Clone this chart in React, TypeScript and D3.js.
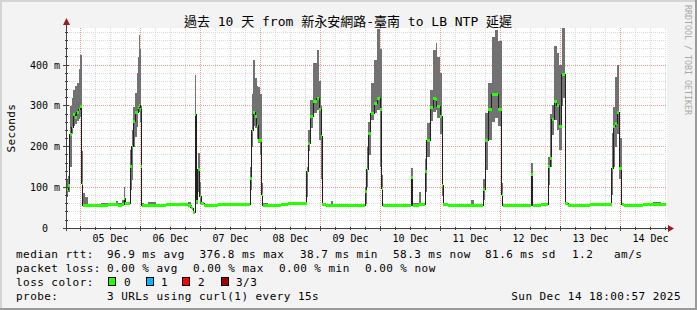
import React from 'react';
import * as d3 from 'd3';

const W = 697;
const H = 310;

const titleText = '過去 10 天 from 新永安網路-臺南 to LB NTP 延遲';
const yAxisTitle = 'Seconds';
const watermark = 'RRDTOOL / TOBI OETIKER';

// hours relative to 05 Dec 00:00
const hStart = -5.8;
const hEnd = 234.2;
const yMax = 491;

const dayLabels = ['05 Dec', '06 Dec', '07 Dec', '08 Dec', '09 Dec', '10 Dec', '11 Dec', '12 Dec', '13 Dec', '14 Dec'];
const yTickValues = [0, 100, 200, 300, 400];
const yTickLabels = ['0  ', '100 m', '200 m', '300 m', '400 m'];

// sample start times (hours since 05 Dec 00:00); each sample holds until the next
const sampleHours = [
  -5.8, -5.0, -4.3, -3.6, -2.9, -2.2, -1.5, -0.8, -0.2, 0.4, 0.8, 1.8, 3.0, 5.0, 8.0, 11.0, 14.0, 15.0, 16.6, 17.4, 17.8,
  19.8, 20.5, 21.1, 21.8, 22.5, 23.1, 23.5, 23.8, 24.2, 24.5, 25.5, 27.0, 30.0, 34.0, 36.0, 40.0, 43.0, 44.0, 44.6, 45.1, 45.8, 46.3, 46.8, 47.6, 48.3,
  49.5, 52.0, 55.0, 58.0, 62.0, 65.0, 67.8, 68.5, 69.1, 69.8, 70.5, 71.1, 71.8, 72.5, 72.9, 75.0, 80.0, 83.0, 87.0,
  90.5, 91.1, 91.8, 93.1, 94.5, 95.5, 96.2, 96.6, 98.0, 100.0, 101.0, 105.0, 110.0, 113.8, 114.5, 115.1, 116.1, 117.4, 118.7, 119.8, 120.5, 120.9, 124.0, 128.0, 132.3, 132.8, 135.3, 136.3,
  137.8, 138.5, 139.8, 141.1, 142.0, 142.5, 143.8, 144.7, 145.1, 147.0, 152.0, 156.0, 157.5, 161.1, 161.8, 163.1, 164.5, 165.8, 167.1, 168.5, 168.9, 172.0, 176.0, 180.3, 180.8, 184.0,
  187.1, 187.8, 188.5, 189.4, 190.5, 191.5, 192.5, 193.1, 193.8, 195.0, 200.0, 203.8, 207.0, 212.5, 213.1, 213.8, 214.7, 215.5, 216.5, 217.5, 222.0, 225.0, 229.0, 232.0,
];

// smoke lower edge (ms)
const smokeLoMs = [
  77, 90, 150, 230, 250, 255, 262, 268, 272, 95, 54, 54, 54, 54, 55, 55, 56, 55, 56, 60, 58,
  94, 118, 200, 225, 249, 283, 285, 260, 120, 54, 53, 53, 53, 56, 56, 56, 55, 50, 45, 36, 250, 60, 90, 60, 56,
  54, 54, 56, 56, 57, 57, 94, 200, 250, 246, 220, 209, 180, 60, 55, 55, 56, 57, 58,
  77, 190, 246, 283, 290, 216, 120, 55, 54, 55, 53, 54, 55, 60, 102, 180, 266, 283, 290, 150, 80, 54, 54, 54, 90, 55, 57, 57,
  90, 175, 262, 286, 290, 270, 230, 80, 55, 54, 53, 55, 55, 70, 143, 216, 260, 270, 250, 65, 54, 54, 55, 100, 55, 56,
  106, 150, 229, 266, 241, 192, 300, 320, 57, 54, 54, 56, 57, 81, 151, 200, 230, 120, 56, 53, 53, 56, 56, 56,
];

// median rtt (ms)
const medianMs = [
  94, 106, 230, 248, 278, 272, 285, 292, 298, 111, 57, 56, 55, 56, 57, 58, 58, 57, 58, 74, 61,
  151, 200, 262, 283, 283, 295, 300, 290, 151, 57, 55, 55, 55, 58, 58, 58, 57, 52, 49, 38.7, 280, 65, 143, 77, 61,
  56, 56, 58, 58, 59, 59, 123, 240, 285, 275, 251, 216, 216, 84, 57, 57, 58, 60, 61,
  139, 208, 274, 311, 319, 290, 225, 59, 57, 57, 55, 56, 57, 90, 143, 233, 282, 307, 319, 290, 98, 57, 56, 56, 124, 57, 59, 59,
  139, 216, 295, 319, 315, 298, 274, 106, 59, 56, 55, 57, 57, 94, 216, 290, 327, 327, 290, 82, 57, 56, 57, 133, 57, 58,
  151, 172, 266, 311, 300, 249, 376, 376, 61, 57, 56, 59, 59, 147, 249, 258, 284, 147, 59, 55, 55, 59, 59, 58,
];

// smoke upper edge (ms)
const smokeHiMs = [
  118, 128, 300, 320, 340, 350, 355, 390, 425, 190, 86, 77, 60, 59, 61, 62, 66, 61, 70, 102, 64,
  192, 241, 298, 332, 381, 421, 475, 440, 300, 62, 58, 64, 57, 60, 63, 61, 64, 56, 53, 42, 376, 120, 185, 114, 64,
  58, 59, 61, 62, 61, 63, 151, 330, 413, 368, 350, 347, 330, 110, 61, 60, 62, 63, 64,
  151, 240, 315, 405, 437, 360, 300, 63, 60, 67, 58, 58, 60, 102, 200, 260, 356, 413, 489, 440, 130, 60, 58, 59, 148, 61, 90, 62,
  170, 258, 339, 437, 455, 420, 380, 150, 62, 58, 58, 69, 60, 120, 283, 356, 470, 485, 460, 110, 60, 58, 60, 160, 60, 60,
  176, 280, 302, 446, 429, 400, 491, 491, 64, 60, 58, 62, 61, 233, 298, 372, 400, 221, 62, 57, 58, 62, 65, 61,
];

const rttStats = ['96.9 ms avg', '376.8 ms max', '38.7 ms min', '58.3 ms now', '81.6 ms sd', '1.2', 'am/s'];
const lossStats = ['0.00 % avg', '0.00 % max', '0.00 % min', '0.00 % now'];
const lossLabels = ['0', '1', '2', '3/3'];
const lossColors = ['#26ff00', '#00b8ff', '#ff0000', '#a00000'];
const probeText = '3 URLs using curl(1) every 15s';
const stampText = 'Sun Dec 14 18:00:57 2025';

// layout
const PL = 66;
const PR = 666;
const PT = 28;
const PB = 228.3;
const rttX = [107, 199.5, 300, 393, 485, 572, 614];
const lossX = [107, 193, 279, 365];
const boxX = [108, 146, 182, 221];
const boxLabelX = [124, 161, 198, 236];
const rowY = [258, 272, 286, 300];

const MONO = "'DejaVu Sans Mono', 'Noto Sans CJK TC', monospace";

export default function App() {
  const x = d3.scaleLinear().domain([hStart, hEnd]).range([PL, PR]);
  const y = d3.scaleLinear().domain([0, yMax]).range([PB, PT]).clamp(true);
  const px = (v: number) => Math.floor(v) + 0.5;

  const n = sampleHours.length;
  const pts = sampleHours.map((h, i) => ({ h, lo: smokeLoMs[i], m: medianMs[i], hi: smokeHiMs[i] }));
  const ptsEnd = [...pts, { ...pts[n - 1], h: hEnd }];

  const smokeArea = d3
    .area<any>()
    .curve(d3.curveStepAfter)
    .x((d) => x(d.h))
    .y0((d) => y(d.lo))
    .y1((d) => y(d.hi));
  const medianLine = d3
    .line<any>()
    .curve(d3.curveStepAfter)
    .x((d) => x(d.h))
    .y((d) => y(d.m));

  const minorH = d3.range(20, yMax, 20).filter((v) => v % 100 !== 0);
  const majorH = yTickValues.filter((v) => v > 0);
  const minorV = d3.range(0, hEnd, 6).filter((h) => h % 24 !== 0 && h > hStart);
  const majorV = d3.range(0, hEnd, 24);
  const labelH = dayLabels.map((_, i) => i * 24 + 12);

  return (
    <svg
      width={W}
      height={H}
      viewBox={`0 0 ${W} ${H}`}
      style={{ position: 'absolute', left: 0, top: 0, display: 'block' }}
      fontFamily={MONO}
    >
      <rect x={0} y={0} width={W} height={H} fill="#f3f3f3" />
      <rect x={0} y={0} width={W} height={2} fill="#d4d4d4" />
      <rect x={0} y={0} width={2} height={H} fill="#d4d4d4" />
      <rect x={0} y={H - 2} width={W} height={2} fill="#9a9a9a" />
      <rect x={W - 2} y={0} width={2} height={H} fill="#9a9a9a" />

      {/* canvas */}
      <rect x={PL} y={PT} width={PR - PL + 1} height={PB - PT} fill="#ffffff" />

      {/* grid */}
      <g shapeRendering="crispEdges" strokeWidth={1} strokeDasharray="1,1">
        {minorH.map((v) => (
          <line key={'mh' + v} x1={PL + 1} x2={PR + 1} y1={px(y(v))} y2={px(y(v))} stroke="#d9d9d9" />
        ))}
        {minorV.map((h) => (
          <line key={'mv' + h} x1={px(x(h))} x2={px(x(h))} y1={PT} y2={PB} stroke="#d9d9d9" />
        ))}
        {majorH.map((v) => (
          <line key={'Mh' + v} x1={PL + 1} x2={PR + 1} y1={px(y(v))} y2={px(y(v))} stroke="#f09a9a" />
        ))}
        {majorV.map((h) => (
          <line key={'Mv' + h} x1={px(x(h))} x2={px(x(h))} y1={PT} y2={PB} stroke="#f09a9a" />
        ))}
      </g>

      {/* smoke */}
      <path d={smokeArea(ptsEnd) || ''} fill="#727272" shapeRendering="crispEdges" />
      {/* median */}
      <path d={medianLine(ptsEnd) || ''} fill="none" stroke="#202020" strokeWidth={1} shapeRendering="crispEdges" />
      <g fill={lossColors[0]} shapeRendering="crispEdges">
        {pts.map((d, i) => {
          const x0 = x(d.h);
          const x1 = x(i < n - 1 ? sampleHours[i + 1] : hEnd);
          return <rect key={'g' + i} x={x0} y={y(d.m) - 1.5} width={Math.max(1, x1 - x0)} height={3} />;
        })}
      </g>

      {/* axes */}
      <g shapeRendering="crispEdges" stroke="#404040" strokeWidth={1}>
        <line x1={px(PL)} x2={px(PL)} y1={PB + 3} y2={22} />
        <line x1={PL - 3} x2={669} y1={px(PB)} y2={px(PB)} />
        {yTickValues.map((v) => (
          <line key={'yt' + v} x1={PL - 3} x2={PL + 3} y1={px(y(v))} y2={px(y(v))} />
        ))}
        {minorH.map((v) => (
          <line key={'ytm' + v} x1={PL - 1} x2={PL + 2} y1={px(y(v))} y2={px(y(v))} />
        ))}
        {majorV.map((h) => (
          <line key={'xt' + h} x1={px(x(h))} x2={px(x(h))} y1={PB - 2} y2={PB + 3} />
        ))}
        {minorV.map((h) => (
          <line key={'xtm' + h} x1={px(x(h))} x2={px(x(h))} y1={PB - 1} y2={PB + 2} />
        ))}
      </g>
      <path d={`M ${PL + 0.5} 18 L ${PL + 4} 25 L ${PL - 3} 25 Z`} fill="#9b1c1c" />
      <path d={`M 674 ${px(PB)} L 668 ${px(PB) - 3.5} L 668 ${px(PB) + 3.5} Z`} fill="#9b1c1c" />

      {/* y tick labels */}
      <g fontSize={10} fill="#000" textAnchor="end" style={{ whiteSpace: 'pre' }}>
        {yTickValues.map((v, i) => (
          <text key={'yl' + v} x={60} y={y(v) + 3.5} xmlSpace="preserve">
            {yTickLabels[i]}
          </text>
        ))}
      </g>
      {/* x labels */}
      <g fontSize={10} fill="#000" textAnchor="middle">
        {dayLabels.map((l, i) => (
          <text key={l} x={x(labelH[i])} y={242}>
            {l}
          </text>
        ))}
      </g>

      {/* titles */}
      <text x={348} y={26} textAnchor="middle" fontSize={13} fill="#000">
        {titleText}
      </text>
      <text
        transform={`translate(15, ${(PT + PB) / 2}) rotate(-90)`}
        textAnchor="middle"
        fontSize={11}
        letterSpacing={0.3}
        fill="#000"
      >
        {yAxisTitle}
      </text>
      <text transform={`translate(685, 5) rotate(90)`} fontSize={8.3} fill="#a8a8a8">
        {watermark}
      </text>

      {/* legend */}
      <g fontSize={11} letterSpacing={0.45} fill="#000">
        <text x={16} y={rowY[0]}>median rtt:</text>
        {rttStats.map((s, i) => (
          <text key={'r' + i} x={rttX[i]} y={rowY[0]}>
            {s}
          </text>
        ))}
        <text x={16} y={rowY[1]}>packet loss:</text>
        {lossStats.map((s, i) => (
          <text key={'l' + i} x={lossX[i]} y={rowY[1]}>
            {s}
          </text>
        ))}
        <text x={16} y={rowY[2]}>loss color:</text>
        {lossLabels.map((s, i) => (
          <text key={'c' + i} x={boxLabelX[i]} y={rowY[2]}>
            {s}
          </text>
        ))}
        <text x={16} y={rowY[3]}>probe:</text>
        <text x={107} y={rowY[3]}>{probeText}</text>
        <text x={681} y={rowY[3]} textAnchor="end">
          {stampText}
        </text>
      </g>
      <g shapeRendering="crispEdges">
        {lossColors.map((c, i) => (
          <rect key={'b' + i} x={boxX[i] + 0.5} y={277.5} width={7} height={8} fill={c} stroke="#000" strokeWidth={1} />
        ))}
      </g>
    </svg>
  );
}
